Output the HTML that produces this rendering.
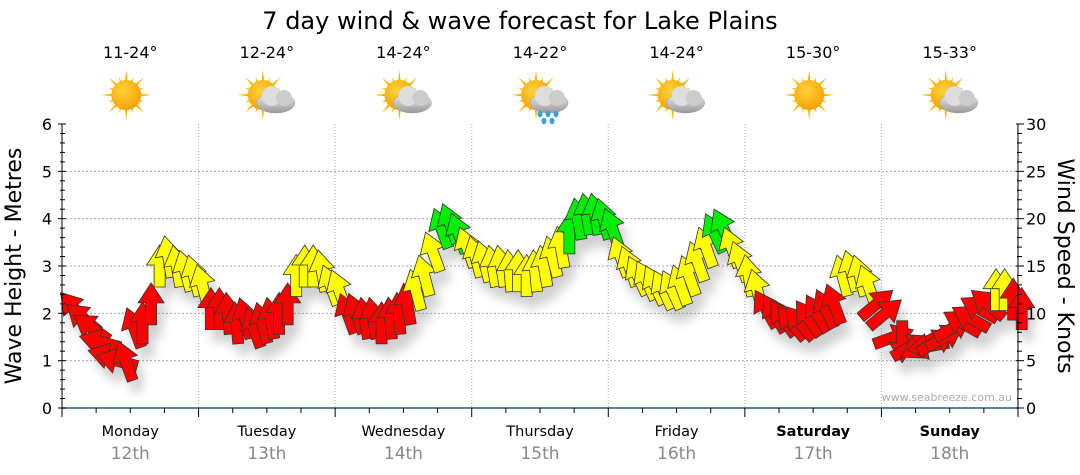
<!DOCTYPE html>
<html><head><meta charset="utf-8"><style>
body{margin:0;background:#fff;}
svg{display:block;font-family:"DejaVu Sans","Liberation Sans",sans-serif;}
</style></head><body>
<svg id="chart" width="1080" height="475" viewBox="0 0 1080 475" xmlns="http://www.w3.org/2000/svg">
<defs>
<filter id="sh" x="-50%" y="-50%" width="200%" height="200%"><feGaussianBlur stdDeviation="5"/></filter>
<radialGradient id="sunG" cx="0.4" cy="0.35" r="0.7"><stop offset="0" stop-color="#ffd23a"/><stop offset="1" stop-color="#f5a000"/></radialGradient>
<linearGradient id="cloudG" x1="0" y1="0" x2="0" y2="1"><stop offset="0" stop-color="#eee"/><stop offset="1" stop-color="#999"/></linearGradient>
</defs>
<text x="520" y="29" text-anchor="middle" font-size="24" fill="#000">7 day wind &amp; wave forecast for Lake Plains</text>
<g id="grid"></g>
<g id="shadows" filter="url(#sh)" opacity="0.3"></g>
<g id="arrows"></g>
<g id="axes"></g>
<g id="icons"></g>
<text x="1012" y="401" text-anchor="end" font-size="11" fill="#aab">www.seabreeze.com.au</text>
<text transform="translate(21,266) rotate(-90)" text-anchor="middle" font-size="22" fill="#000">Wave Height - Metres</text>
<text transform="translate(1058,266) rotate(90)" text-anchor="middle" font-size="22" fill="#000">Wind Speed - Knots</text>
</svg>
<script>
const days=["Monday","Tuesday","Wednesday","Thursday","Friday","Saturday","Sunday"];
const dates=["12th","13th","14th","15th","16th","17th","18th"];
const temps=["11-24°","12-24°","14-24°","14-22°","14-24°","15-30°","15-33°"];
const weather=["sun","cloud","cloud","rain","cloud","sun","cloud"];
const waveTicks=[0,1,2,3,4,5,6];
const windTicks=[0,5,10,15,20,25,30];
const windSpeed=[
10.5,9.5,8.5,7,5.5,5,5,8.5,9,11,15,16,15,14.5,14,13,
10.5,10.5,10,9,9.5,8.5,9,9.5,10,11,14,15,15,14.5,13,12.5,
10,10,9.5,9.5,9,9.5,10,11,12.5,14,16.5,19,19.5,18.5,17,16,
15.5,15,15,14.5,14.5,14,14.5,15,16,17,18.5,20,20.5,20.5,20,19,
16,15,14,13.5,13,12.5,12.5,13,14,15.5,17,18.5,19,17,15.5,14,
12.5,10.5,10,9.5,9,9,9.5,10,10.5,11,14,14.5,14,13,11,10,
7.5,7,6.5,6.5,6.5,7,7.5,8.5,9,9.5,10.5,11,12.5,12.5,11.5,10.5];
const windDir=[
-40,-50,-55,-75,-75,-75,-20,-20,0,0,0,-10,-10,-15,-15,-15,
0,0,-5,-5,-15,-20,-15,-10,0,0,0,0,0,-10,-20,-20,
-20,-20,-10,-10,0,-5,-5,-10,-15,-15,-20,-20,-20,-20,-20,-15,
-15,-10,-10,-5,0,0,-5,-10,-15,-10,0,-10,-10,-10,-15,-20,
-20,-20,-25,-25,-25,-25,-25,-20,-20,-20,-20,-25,-25,-20,-20,-10,
-15,-30,-30,-35,-40,-40,-35,-30,-25,-20,-15,-15,-15,-20,50,50,
70,180,60,-120,-100,60,60,60,-60,-60,-60,-50,0,0,0,0];
const NS="http://www.w3.org/2000/svg";
const X0=62,X1=1018,YB=408,YT=124;
const dayW=(X1-X0)/7;
const yWave=v=>YB-(v/6)*(YB-YT);
const yWind=v=>YB-(v/30)*(YB-YT);
const xIdx=i=>X0+(i+0.5)*dayW/16+8;
function mk(tag,attrs,parent){const e=document.createElementNS(NS,tag);for(const k in attrs)e.setAttribute(k,attrs[k]);parent.appendChild(e);return e;}
const grid=document.getElementById('grid'),axes=document.getElementById('axes'),icons=document.getElementById('icons');
const sh=document.getElementById('shadows'),ar=document.getElementById('arrows');
for(let i=1;i<6;i++){const l=mk('line',{x1:X0,x2:X1,y1:yWave(i),y2:yWave(i),stroke:'#aaa','stroke-dasharray':'2,2'},grid);

}
for(let d=1;d<7;d++){const x=X0+d*dayW;const l=mk('line',{x1:x,x2:x,y1:YT,y2:YB,stroke:'#aaa','stroke-dasharray':'1,2'},grid);

}
mk('line',{x1:X0,x2:X0,y1:YT,y2:YB+9,stroke:'#000'},axes);
mk('line',{x1:X1,x2:X1,y1:YT,y2:YB,stroke:'#000'},axes);
mk('line',{x1:X0,x2:X1,y1:YB,y2:YB,stroke:'#1f5a80','stroke-width':1.5},axes);
for(let k=0;k<=30;k++){const y=YB-k*(YB-YT)/30;const major=k%5==0;
mk('line',{x1:X0-(major?4:2),x2:X0+(major?4:3),y1:y,y2:y,stroke:'#000'},axes);
mk('line',{x1:X1-(major?2:1),x2:X1+(major?6:4),y1:y,y2:y,stroke:'#000'},axes);}
waveTicks.forEach(v=>{const t=mk('text',{x:X0-10,y:yWave(v)+6,'text-anchor':'end','font-size':16},axes);t.textContent=v;

});
windTicks.forEach(v=>{const t=mk('text',{x:X1+8,y:yWind(v)+6,'font-size':16},axes);t.textContent=v;

});
for(let q=0;q<=28;q++){const x=X0+q*dayW/4;mk('line',{x1:x,x2:x,y1:YB,y2:YB+(q%4==0?9:5),stroke:'#000'},axes);}
days.forEach((d,i)=>{const cx=X0+(i+0.5)*dayW;const bold=i>=5;
const t=mk('text',{x:cx,y:436,'text-anchor':'middle','font-size':14.5,'font-weight':bold?'bold':'normal'},axes);t.textContent=d;


const t2=mk('text',{x:cx,y:459,'text-anchor':'middle','font-size':17,fill:'#888'},axes);t2.textContent=dates[i];


const t3=mk('text',{x:cx,y:58,'text-anchor':'middle','font-size':16},icons);t3.textContent=temps[i];


const g=mk('g',{transform:`translate(${cx-4},95)`},icons);


for(let r=0;r<16;r++){const a=r*Math.PI/8;const L=r%2?19:25;
mk('polygon',{points:`${Math.cos(a-0.13)*12},${Math.sin(a-0.13)*12} ${Math.cos(a)*L},${Math.sin(a)*L} ${Math.cos(a+0.13)*12},${Math.sin(a+0.13)*12}`,fill:'#f7b500'},g);}
mk('circle',{cx:0,cy:0,r:15,fill:'url(#sunG)'},g);
if(weather[i]!='sun'){const c=mk('g',{transform:'translate(12,4)'},g);
mk('ellipse',{cx:1,cy:4,rx:19,ry:10,fill:'url(#cloudG)',stroke:'#999','stroke-width':0.5},c);
mk('circle',{cx:-3,cy:-3,r:10,fill:'#ddd'},c);mk('circle',{cx:9,cy:-1,r:8,fill:'#ccc'},c);
if(weather[i]=='rain'){[[-8,15],[0,15],[8,15],[-4,22],[4,22]].forEach(p=>mk('ellipse',{cx:p[0],cy:p[1],rx:2.5,ry:3.2,fill:'#3aa0e0'},c));}}
});
const shape="M0,-21 L13,-1 L5.5,-1 L5.5,21 L-5.5,21 L-5.5,-1 L-13,-1 Z";
windSpeed.forEach((v,i)=>{const x=xIdx(i),y=yWind(v);const col=v>=18?'#00ee00':(v>=12?'#ffff00':'#ff0000');
mk('path',{d:shape,transform:`translate(${x+6},${y+12}) rotate(${windDir[i]})`,fill:'#666'},sh);
const p=mk('path',{d:shape,transform:`translate(${x},${y}) rotate(${windDir[i]})`,fill:col,stroke:'#333','stroke-width':0.8},ar);

});
</script>
</body></html>
